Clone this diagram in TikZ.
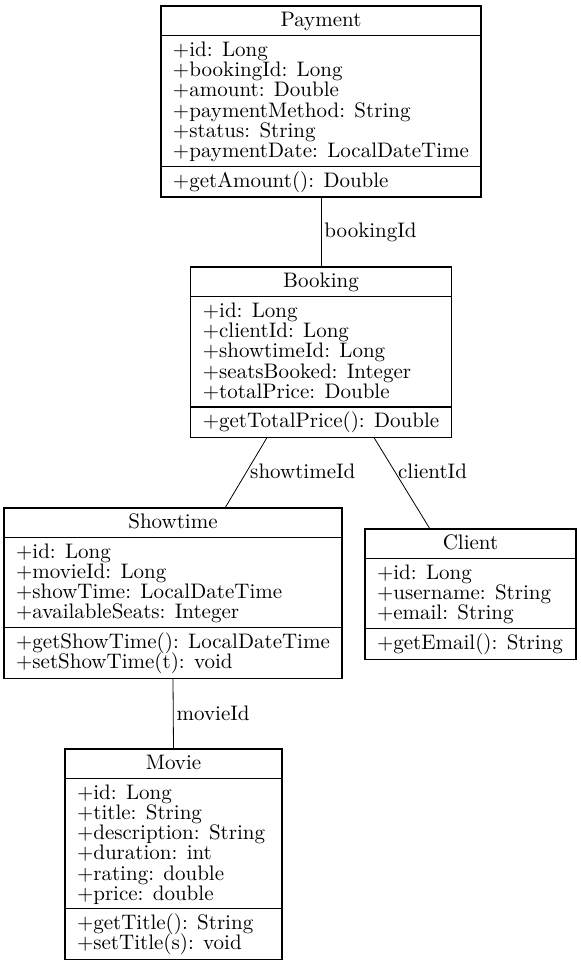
\documentclass[tikz,border=0pt]{standalone}
\usetikzlibrary{shapes.multipart}
\newcommand\umlfont{\fontsize{10.5}{10.1}\selectfont\lineskiplimit=-10pt\relax\lineskip=0pt\relax}
\newcommand\us{\rule[-2pt]{0pt}{10.1pt}}
\begin{document}
\begin{tikzpicture}[x=0.5pt, y=-0.5pt,
  umlclass/.style={draw, line width=0.6pt, rectangle split, rectangle split parts=3,
    rectangle split part align={center,left,left}, align=left, font=\umlfont,
    inner xsep=6pt, inner ysep=2pt, outer sep=0pt, anchor=north},
  edgelabel/.style={anchor=west, inner sep=1.5pt, font=\umlfont}]
\useasboundingbox (0,0) rectangle (581,968);
\node[umlclass, minimum width=160pt] (payment) at (321,6) {\us Payment\us
  \nodepart{second}\us+id: Long\\+bookingId: Long\\+amount: Double\\
  +paymentMethod: String\\+status: String\\+paymentDate: LocalDateTime\us
  \nodepart{third}\us+getAmount(): Double\us};
\node[umlclass, minimum width=129pt] (booking) at (321,267) {\us Booking\us
  \nodepart{second}\us+id: Long\\+clientId: Long\\+showtimeId: Long\\
  +seatsBooked: Integer\\+totalPrice: Double\us
  \nodepart{third}\us+getTotalPrice(): Double\us};
\node[umlclass, minimum width=168pt] (showtime) at (173,508) {\us Showtime\us
  \nodepart{second}\us+id: Long\\+movieId: Long\\+showTime: LocalDateTime\\
  +availableSeats: Integer\us
  \nodepart{third}\us+getShowTime(): LocalDateTime\\+setShowTime(t): void\us};
\node[umlclass, minimum width=105.5pt] (client) at (470.5,529) {\us Client\us
  \nodepart{second}\us+id: Long\\+username: String\\+email: String\us
  \nodepart{third}\us+getEmail(): String\us};
\node[umlclass, minimum width=108.5pt] (movie) at (173.5,749) {\us Movie\us
  \nodepart{second}\us+id: Long\\+title: String\\+description: String\\
  +duration: int\\+rating: double\\+price: double\us
  \nodepart{third}\us+getTitle(): String\\+setTitle(s): void\us};
\draw (payment.south) -- node[edgelabel] {bookingId} (booking.north);
\draw ([xshift=-27pt]booking.south) -- node[edgelabel, pos=0.48] {showtimeId}
  ([xshift=26pt]showtime.north);
\draw ([xshift=26.5pt]booking.south) -- node[edgelabel, pos=0.37] {clientId}
  ([xshift=-20.25pt]client.north);
\draw (showtime.south) -- node[edgelabel] {movieId} (movie.north);
\end{tikzpicture}
\end{document}
